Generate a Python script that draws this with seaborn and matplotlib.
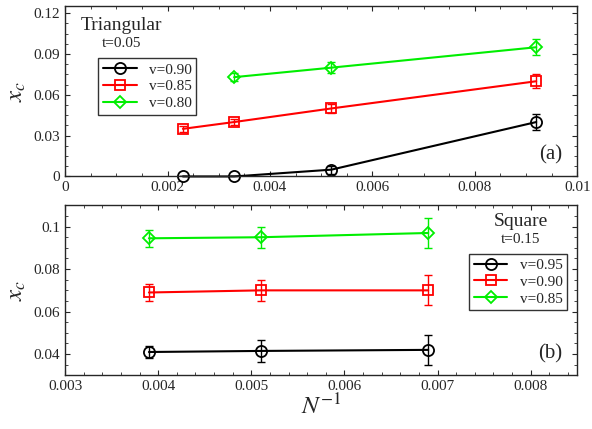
import numpy as np
import pandas as pd
import matplotlib
matplotlib.use("Agg")
import matplotlib.pyplot as plt
import seaborn as sns

sns.set_style("ticks")
plt.rcParams['font.family'] = ['Liberation Serif', 'DejaVu Serif']
plt.rcParams['mathtext.fontset'] = 'stix'

# top panel: triangular, t=0.05
tri_x = {"v=0.90": [0.0023, 0.0033, 0.0052, 0.0092],
         "v=0.85": [0.0023, 0.0033, 0.0052, 0.0092],
         "v=0.80": [0.0033, 0.0052, 0.0092]}
tri_y = {"v=0.90": [0.0, 0.0, 0.005, 0.040],
         "v=0.85": [0.035, 0.040, 0.050, 0.070],
         "v=0.80": [0.073, 0.080, 0.095]}
tri_err = {"v=0.90": [0.0, 0.0, 0.003, 0.006],
           "v=0.85": [0.002, 0.002, 0.003, 0.005],
           "v=0.80": [0.003, 0.004, 0.006]}

# bottom panel: square, t=0.15
sq_x = [0.0039, 0.0051, 0.0069]
sq_y = {"v=0.95": [0.041, 0.0415, 0.042],
        "v=0.90": [0.069, 0.070, 0.070],
        "v=0.85": [0.0945, 0.095, 0.097]}
sq_err = {"v=0.95": [0.003, 0.005, 0.007],
          "v=0.90": [0.004, 0.005, 0.007],
          "v=0.85": [0.004, 0.005, 0.007]}

colors = ["black", "red", "#00ee00"]
markers = ["o", "s", "D"]
msizes = [8, 7, 6]

fig, (ax1, ax2) = plt.subplots(2, 1, figsize=(5.92, 4.29), dpi=100)

for i, k in enumerate(tri_x):
    df = pd.DataFrame({"x": tri_x[k], "y": tri_y[k]})
    sns.lineplot(data=df, x="x", y="y", ax=ax1, color=colors[i], marker=markers[i],
                 markersize=msizes[i], markerfacecolor="none", markeredgecolor=colors[i],
                 markeredgewidth=1.3, label=k, clip_on=False)
    ax1.errorbar(tri_x[k], tri_y[k], yerr=tri_err[k], fmt="none", ecolor=colors[i], capsize=3, lw=1)

for i, k in enumerate(sq_y):
    df = pd.DataFrame({"x": sq_x, "y": sq_y[k]})
    sns.lineplot(data=df, x="x", y="y", ax=ax2, color=colors[i], marker=markers[i],
                 markersize=msizes[i], markerfacecolor="none", markeredgecolor=colors[i],
                 markeredgewidth=1.3, label=k)
    ax2.errorbar(sq_x, sq_y[k], yerr=sq_err[k], fmt="none", ecolor=colors[i], capsize=3, lw=1)

ax1.set_xlim(0, 0.01)
ax1.set_ylim(0, 0.125)
ax1.set_xticks([0, 0.002, 0.004, 0.006, 0.008, 0.01])
ax1.set_xticklabels(["0", "0.002", "0.004", "0.006", "0.008", "0.01"])
ax1.set_yticks([0, 0.03, 0.06, 0.09, 0.12])
ax1.set_yticklabels(["0", "0.03", "0.06", "0.09", "0.12"])
ax1.set_xlabel("")
ax1.set_ylabel("$x_c$", fontsize=18)
ax1.text(0.11, 0.86, "Triangular", transform=ax1.transAxes, fontsize=14, ha="center")
ax1.text(0.11, 0.76, "t=0.05", transform=ax1.transAxes, fontsize=11, ha="center")
ax1.text(0.97, 0.1, "(a)", transform=ax1.transAxes, fontsize=15, ha="right")
ax1.legend(loc="upper left", bbox_to_anchor=(0.05, 0.74), frameon=True, fancybox=False,
           edgecolor="black", fontsize=11, handlelength=2.2, borderpad=0.3, labelspacing=0.2)

ax2.set_xlim(0.003, 0.0085)
ax2.set_ylim(0.03, 0.11)
ax2.set_xticks([0.003, 0.004, 0.005, 0.006, 0.007, 0.008])
ax2.set_xticklabels(["0.003", "0.004", "0.005", "0.006", "0.007", "0.008"])
ax2.set_yticks([0.04, 0.06, 0.08, 0.1])
ax2.set_yticklabels(["0.04", "0.06", "0.08", "0.1"])
ax2.set_xlabel("$N^{-1}$", fontsize=18, labelpad=0)
ax2.set_ylabel("$x_c$", fontsize=18)
ax2.text(0.89, 0.88, "Square", transform=ax2.transAxes, fontsize=14, ha="center")
ax2.text(0.89, 0.78, "t=0.15", transform=ax2.transAxes, fontsize=11, ha="center")
ax2.text(0.97, 0.1, "(b)", transform=ax2.transAxes, fontsize=15, ha="right")
ax2.legend(loc="upper right", bbox_to_anchor=(0.995, 0.76), frameon=True, fancybox=False,
           edgecolor="black", fontsize=11, handlelength=2.2, borderpad=0.3, labelspacing=0.2)

for ax in (ax1, ax2):
    ax.tick_params(direction="in", which="both", top=True, right=True, labelsize=11)
    ax.minorticks_on()
    for s in ax.spines.values():
        s.set_linewidth(1)

fig.subplots_adjust(left=0.11, right=0.975, top=0.985, bottom=0.125, hspace=0.17)
fig.savefig("out.png", dpi=100)
